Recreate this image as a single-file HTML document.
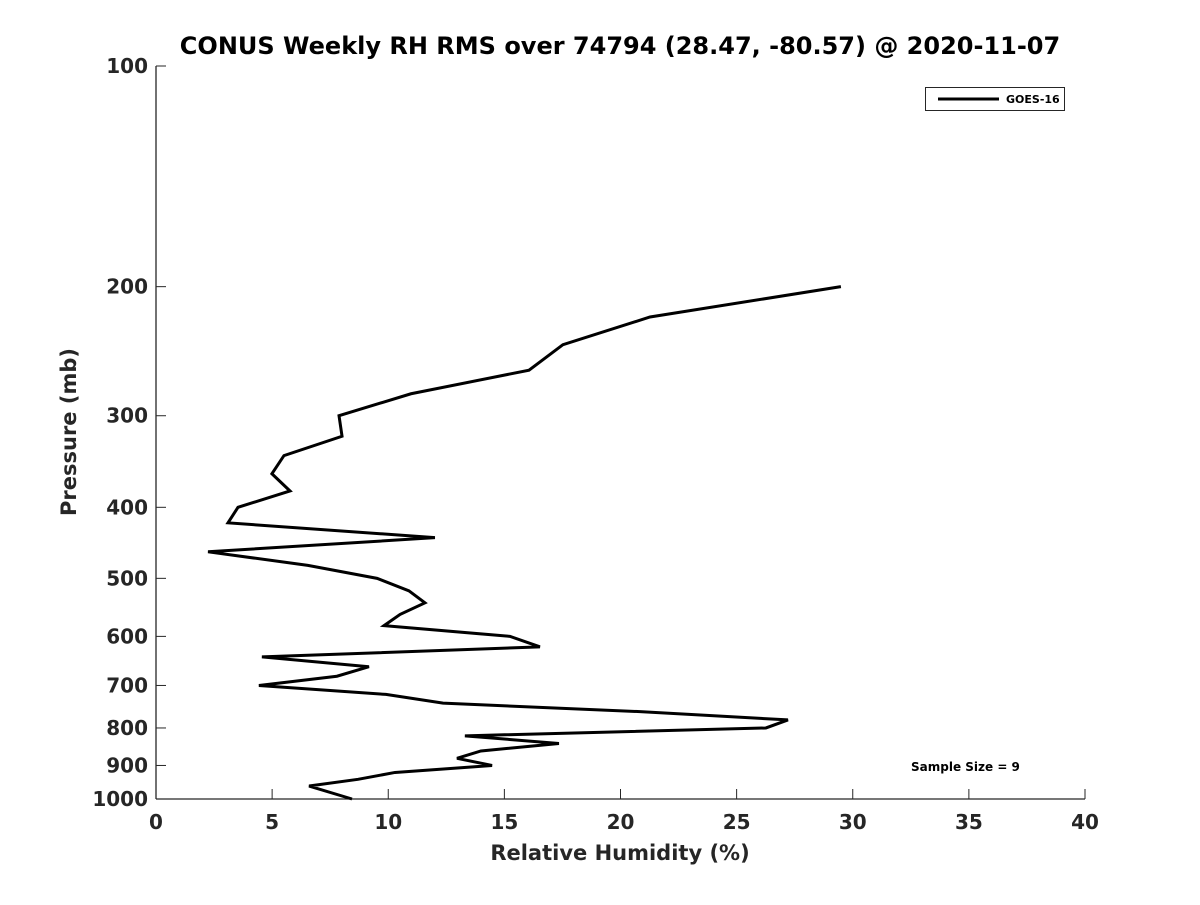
<!DOCTYPE html>
<html><head><meta charset="utf-8"><style>
body{margin:0;background:#fff}
svg text{font-family:"DejaVu Sans","Liberation Sans",sans-serif;font-weight:bold;fill:#262626}
</style></head><body>
<svg width="1200" height="900">
<rect width="1200" height="900" fill="#fff"/>
<g id="g"></g>
</svg>
<script>
const pressures=[200,220,240,260,280,300,320,340,360,380,400,420,440,460,480,500,520,540,560,580,600,620,640,660,680,700,720,740,760,780,800,820,840,860,880,900,920,940,960,1000];
const rhValues=[29.49,21.27,17.52,16.06,10.98,7.88,8.01,5.51,4.99,5.77,3.53,3.10,12.01,2.24,6.54,9.52,10.89,11.58,10.51,9.82,15.24,16.53,4.56,9.17,7.79,4.43,9.90,12.36,20.84,27.21,26.26,13.30,17.35,13.99,12.96,14.47,10.29,8.70,6.59,8.44];
const xTicks=[0,5,10,15,20,25,30,35,40];
const yTicks=[100,200,300,400,500,600,700,800,900,1000];
const L=156,R=1085,T=66,B=799;
const xs=v=>L+(v-0)/40*(R-L);
const ys=p=>T+(Math.log10(p)-2)*(B-T);
const g=document.getElementById('g');const NS='http://www.w3.org/2000/svg';
function mk(t,a,txt){const e=document.createElementNS(NS,t);for(const k in a)e.setAttribute(k,a[k]);if(txt!==undefined)e.textContent=txt;g.appendChild(e);return e;}
let e;
e=mk('line',{x1:L,y1:T,x2:L,y2:B,stroke:'#262626','stroke-width':1.3});


e=mk('line',{x1:L,y1:B,x2:R,y2:B,stroke:'#262626','stroke-width':1.3});


xTicks.forEach(v=>{const x=xs(v);
mk('line',{x1:x,y1:B,x2:x,y2:B-10,stroke:'#262626','stroke-width':1});
e=mk('text',{x:x,y:B+30,'text-anchor':'middle','font-size':20},String(v));

});
yTicks.forEach(p=>{const y=ys(p);
mk('line',{x1:L,y1:y,x2:L+10,y2:y,stroke:'#262626','stroke-width':1});
e=mk('text',{x:L-8,y:y+7,'text-anchor':'end','font-size':20},String(p));

});
e=mk('polyline',{points:pressures.map((p,i)=>xs(rhValues[i])+','+ys(p)).join(' '),fill:'none',stroke:'#000','stroke-width':3,'stroke-linejoin':'miter'});


e=mk('text',{x:620,y:54,'text-anchor':'middle','font-size':24,style:'fill:#000'},'CONUS Weekly RH RMS over 74794 (28.47, -80.57) @ 2020-11-07');


e=mk('text',{x:620,y:860,'text-anchor':'middle','font-size':21},'Relative Humidity (%)');


e=mk('text',{x:0,y:0,'text-anchor':'middle','font-size':21,transform:'translate(76,432) rotate(-90)'},'Pressure (mb)');


e=mk('rect',{x:925.5,y:87.5,width:139,height:23,fill:'#fff',stroke:'#262626','stroke-width':1});


mk('line',{x1:938,y1:99,x2:999,y2:99,stroke:'#000','stroke-width':3});
e=mk('text',{x:1006,y:103,'font-size':11,style:'fill:#000'},'GOES-16');


e=mk('text',{x:911,y:771,'font-size':12,style:'fill:#000'},'Sample Size = 9');


</script>
</body></html>
